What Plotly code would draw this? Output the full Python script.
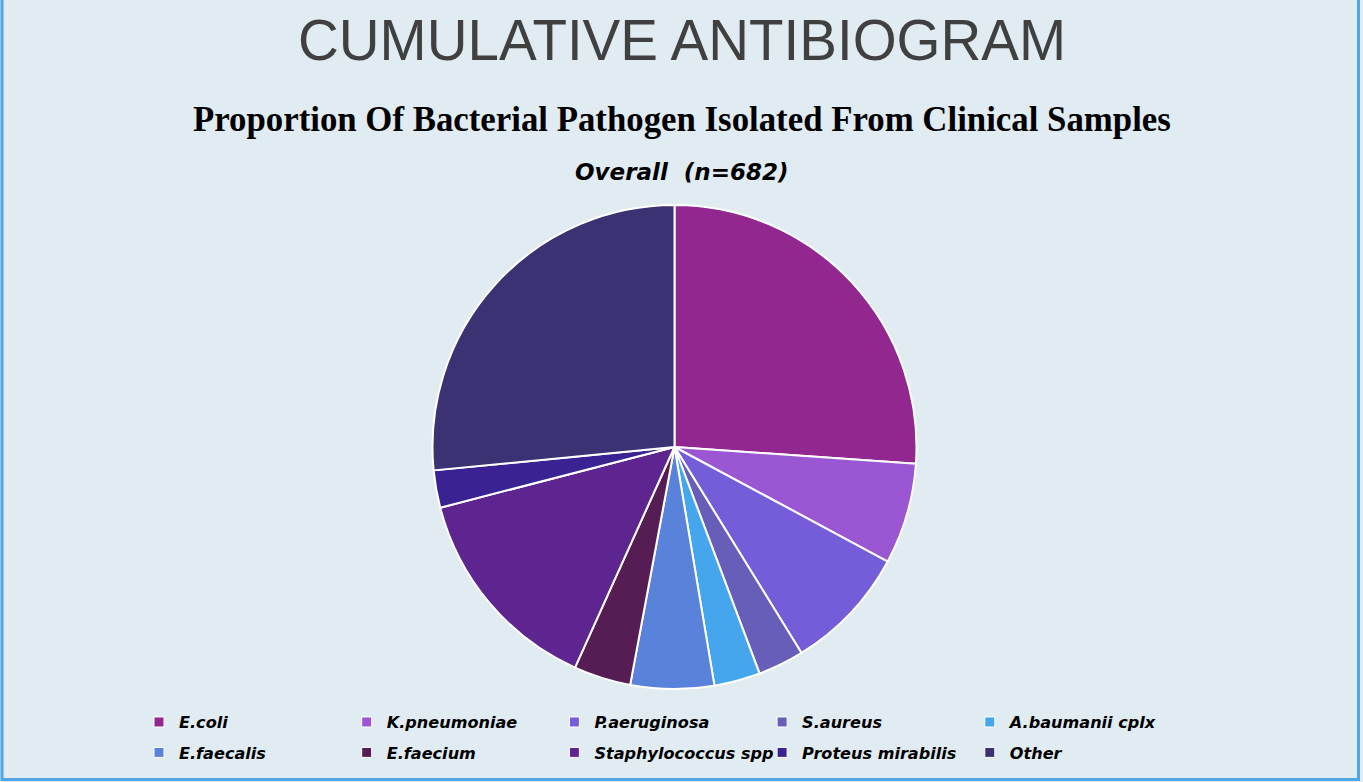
import plotly.graph_objects as go

# dados (n=682)
labels = ["E.coli", "K.pneumoniae", "P.aeruginosa", "S.aureus", "A.baumanii cplx",
          "E.faecalis", "E.faecium", "Staphylococcus spp", "Proteus mirabilis", "Other"]
counts = [178, 46, 57, 21, 21, 38, 26, 97, 17, 181]
colors = ["#92278f", "#9b57d3", "#755dd9", "#665eb8", "#45a5ed",
          "#5982db", "#561c54", "#5e2590", "#3b2292", "#3b3273"]

W, H = 1363, 782
BG = "#e0ebf2"

fig = go.Figure()

# Pizza principal
fig.add_trace(go.Pie(
    labels=labels, values=counts, sort=False, direction="clockwise",
    marker=dict(colors=colors, line=dict(color="white", width=2)),
    textinfo="none", hoverinfo="label+value+percent", showlegend=False,
    domain=dict(x=[432.5 / W, 916.5 / W], y=[1 - 689 / H, 1 - 205 / H]),
))

# Legenda: 5 colunas, 2 linhas -> uma legenda vertical por coluna
leg_font = dict(family="DejaVu Sans, sans-serif", size=16.1, color="black",
                weight="bold", style="italic")
legends = {}
for c in range(5):
    key = "legend" if c == 0 else "legend%d" % (c + 1)
    legends[key] = dict(orientation="v", x=(139 + 207.7 * c) / W, xanchor="left",
                        y=1 - 705 / H, yanchor="top", font=leg_font, itemwidth=30,
                        tracegroupgap=6.5, bgcolor="rgba(0,0,0,0)", itemclick=False)

for i, (lab, col) in enumerate(zip(labels, colors)):
    c = i % 5
    fig.add_trace(go.Scatter(
        x=[None], y=[None], mode="markers", name=lab, legendgroup=lab,
        marker=dict(symbol="square", size=10, color=col, line=dict(color="white", width=1)),
        legend="legend" if c == 0 else "legend%d" % (c + 1),
    ))

fig.update_layout(
    width=W, height=H,
    margin=dict(l=0, r=0, t=0, b=0),
    paper_bgcolor=BG, plot_bgcolor=BG,
    xaxis=dict(visible=False), yaxis=dict(visible=False),
    annotations=[
        dict(text="CUMULATIVE ANTIBIOGRAM", x=0.5, y=1 - 41 / H, xref="paper", yref="paper",
             showarrow=False, xanchor="center", yanchor="middle",
             font=dict(family="Liberation Sans, Arial, sans-serif", size=56.5, color="#404040")),
        dict(text="<b>Proportion Of Bacterial Pathogen Isolated From Clinical Samples</b>",
             x=0.5, y=1 - 119 / H, xref="paper", yref="paper",
             showarrow=False, xanchor="center", yanchor="middle",
             font=dict(family="Liberation Serif, Times New Roman, serif", size=34.8, color="black")),
        dict(text="<b><i>Overall  (n=682)</i></b>", x=0.5, y=1 - 172 / H, xref="paper", yref="paper",
             showarrow=False, xanchor="center", yanchor="middle",
             font=dict(family="DejaVu Sans, sans-serif", size=23, color="black")),
    ],
    shapes=[
        dict(type="rect", xref="paper", yref="paper",
             x0=2 / W, x1=1358.5 / W, y0=(H - 779.5) / H, y1=1.05,
             line=dict(color="#4ea6e6", width=3)),
    ],
    **legends,
)

fig.write_html("out.html", config={"displayModeBar": False},
               post_script="document.body.style.margin='0';document.body.style.overflow='hidden';")
